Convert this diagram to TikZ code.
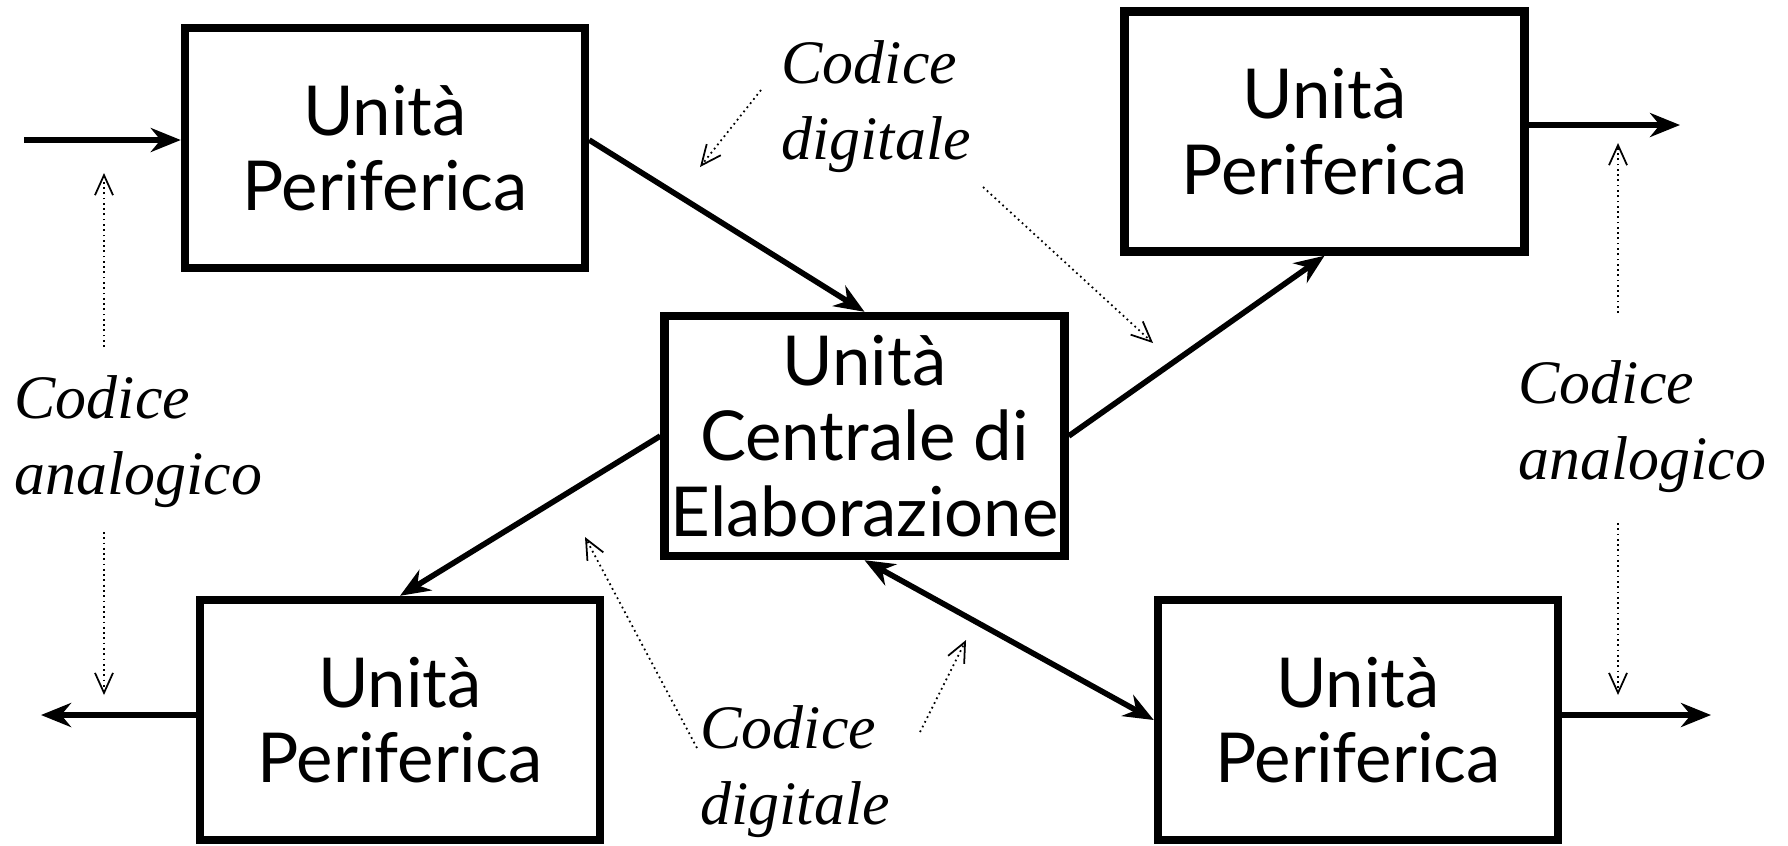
\documentclass[tikz,border=0pt]{standalone}
\usepackage{fontspec}
\setmainfont{Liberation Serif}
\newfontfamily\unitfont{Lato}
\usetikzlibrary{arrows.meta}
\tikzset{
unit box/.style={draw, line width=2.4pt, minimum width=4cm, minimum height=2.4cm,
    inner sep=0pt, align=center, font=\unitfont\fontsize{19.6}{21.5}\selectfont},
code label/.style={anchor=north west, inner sep=0pt, align=left,
    font=\itshape\fontsize{17.6}{21.5}\selectfont},
link/.style={line width=1.6pt, -{Stealth[length=3mm,width=2.4mm]}},
both link/.style={line width=1.6pt, {Stealth[length=3mm,width=2.4mm]}-{Stealth[length=3mm,width=2.4mm]}},
hint/.style={line width=0.5pt, densely dotted, -{Straight Barb[length=2mm,width=1.8mm]}},
}

\begin{document}
\begin{tikzpicture}
    \useasboundingbox (0,0) rectangle (17.88,-8.45);
    \node[unit box] (pin) at (3.85,-1.48) {Unità\\Periferica};
    \node[unit box] (pout) at (13.245,-1.315) {Unità\\Periferica};
    \node[unit box] (cpu) at (8.645,-4.36) {Unità\\Centrale di\\Elaborazione};
    \node[unit box] (pbl) at (4.00,-7.20) {Unità\\Periferica};
    \node[unit box] (pbr) at (13.58,-7.20) {Unità\\Periferica};
    \node[code label] (dtop) at (7.81,-0.40) {Codice\\digitale};
    \node[code label] (aleft) at (0.14,-3.75) {Codice\\analogico};
    \node[code label] (aright) at (15.18,-3.60) {Codice\\analogico};
    \node[code label] (dbot) at (7.00,-7.05) {Codice\\digitale};
    \coordinate (in) at (0.24,-1.40);
    \coordinate (outtr) at (16.80,-1.25);
    \coordinate (outbl) at (0.41,-7.15);
    \coordinate (outbr) at (17.11,-7.15);
    \draw[link] (in) -- (in -| pin.west);
    \draw[link] (pout.east |- outtr) -- (outtr);
    \draw[link] (pbl.west |- outbl) -- (outbl);
    \draw[link] (pbr.east |- outbr) -- (outbr);
    \draw[link] ([yshift=0.08cm]pin.east) -- (cpu.north);
    \draw[link] (cpu.east) -- (pout.south);
    \draw[link] (cpu.west) -- (pbl.north);
    \draw[both link] (cpu.south) -- (pbr.west);
    % dotted pointers
    \coordinate (al1) at (1.04,-3.47);  \coordinate (al2) at (1.04,-1.73);
    \coordinate (al3) at (1.04,-5.32);  \coordinate (al4) at (1.04,-6.95);
    \coordinate (ar1) at (16.18,-3.13); \coordinate (ar2) at (16.18,-1.43);
    \coordinate (ar3) at (16.18,-5.23); \coordinate (ar4) at (16.18,-6.95);
    \coordinate (dt1) at (7.61,-0.90);  \coordinate (dt2) at (7.00,-1.67);
    \coordinate (dt3) at (9.83,-1.87);  \coordinate (dt4) at (11.53,-3.43);
    \coordinate (db1) at (6.97,-7.48);  \coordinate (db2) at (5.85,-5.37);
    \coordinate (db3) at (9.20,-7.32);  \coordinate (db4) at (9.66,-6.40);
    \draw[hint] (al1) -- (al2);
    \draw[hint] (al3) -- (al4);
    \draw[hint] (ar1) -- (ar2);
    \draw[hint] (ar3) -- (ar4);
    \draw[hint] (dt1) -- (dt2);
    \draw[hint] (dt3) -- (dt4);
    \draw[hint] (db1) -- (db2);
    \draw[hint] (db3) -- (db4);
\end{tikzpicture}
\end{document}
